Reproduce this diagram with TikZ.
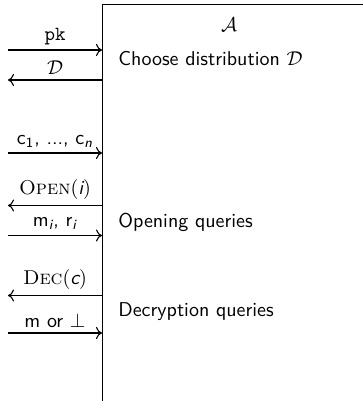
\documentclass[tikz,border=0pt]{standalone}
\usepackage{amsmath}
\usetikzlibrary{arrows.meta}
% sans upright / sans italic letters inside formulas
\newcommand{\sv}[1]{\text{\sffamily\upshape #1}}
\newcommand{\si}[1]{\text{\sffamily\itshape #1}}
\begin{document}
\begin{tikzpicture}[x=0.5pt,y=-0.5pt,
  thinline/.style={line width=0.55pt},
  msg/.style={thinline, -{To[length=3pt,width=6pt]}},
  lbl/.style={above, inner sep=2.5pt, font=\sffamily},
  txt/.style={anchor=base west, inner sep=0pt, font=\sffamily}]
\useasboundingbox (0,0) rectangle (363,401);
\clip (0,0) rectangle (363,401);

% the adversary's box, running past the right and bottom edges
\node[draw, thinline, anchor=north west, minimum width=160pt, minimum height=250pt,
      inner sep=0pt] (adv) at (102,4) {};
\node[anchor=base, inner sep=0pt] (name) at (229,32) {$\mathcal{A}$};

% free ends of the messages on the left
\coordinate (e1) at (8,50);
\coordinate (e2) at (8,80);
\coordinate (e3) at (8,153);
\coordinate (e4) at (8,205.5);
\coordinate (e5) at (8,235.5);
\coordinate (e6) at (8,295.5);
\coordinate (e7) at (8,333);

\draw[msg] (e1) -- node[lbl] {\texttt{pk}} (adv.west |- e1);
\draw[msg] (adv.west |- e2) -- node[lbl] {$\mathcal{D}$} (e2);
\draw[msg] (e3) -- node[lbl] {$\sv{c}_{\sv{1}}$, ..., $\sv{c}_{\si{n}}$} (adv.west |- e3);
\draw[msg] (adv.west |- e4) -- node[lbl] {\textrm{\textsc{Open}}$(\si{i})$} (e4);
\draw[msg] (e5) -- node[lbl] {$\sv{m}_{\si{i}}$, $\sv{r}_{\si{i}}$} (adv.west |- e5);
\draw[msg] (adv.west |- e6) -- node[lbl] {\textrm{\textsc{Dec}}$(\si{c})$} (e6);
\draw[msg] (e7) -- node[lbl] {m or $\perp$} (adv.west |- e7);

% what the adversary does
\node[txt] (choose) at (118,66) {Choose distribution $\mathcal{D}$};
\node[txt] (open) at (118,227) {Opening queries};
\node[txt] (dec) at (118,316.5) {Decryption queries};
\end{tikzpicture}
\end{document}
